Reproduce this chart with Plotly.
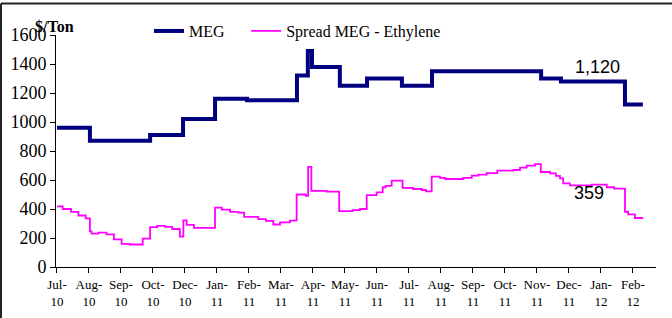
import plotly.graph_objects as go

# Tick labels (category axis, one label per month mark)
tick_labels = ["Jul-<br>10", "Aug-<br>10", "Sep-<br>10", "Oct-<br>10", "Dec-<br>10",
               "Jan-<br>11", "Feb-<br>11", "Mar-<br>11", "Apr-<br>11", "May-<br>11",
               "Jun-<br>11", "Jul-<br>11", "Aug-<br>11", "Sep-<br>11", "Oct-<br>11",
               "Nov-<br>11", "Dec-<br>11", "Jan-<br>12", "Feb-<br>12"]
tick_pos = list(range(len(tick_labels)))

# MEG price: time (months since Jul-10) of each price change, and the new price
meg_t = [0.0, 1.03, 2.91, 3.94, 4.94, 5.94, 7.50, 7.84, 7.97, 8.84, 9.69, 10.78,
         11.72, 15.13, 15.75, 17.75, 18.31]
meg_v = [960, 870, 910, 1020, 1160, 1150, 1320, 1490, 1380, 1250, 1300, 1250,
         1350, 1300, 1280, 1120, 1120]

# Spread MEG - Ethylene
spr_t = [0.0, 0.18, 0.44, 0.67, 0.90, 1.03, 1.08, 1.29, 1.55, 1.78, 2.02, 2.28,
         2.68, 2.91, 3.13, 3.38, 3.60, 3.84, 3.95, 4.05, 4.28, 4.94, 5.15, 5.41,
         5.67, 5.85, 6.29, 6.53, 6.76, 6.97, 7.28, 7.49, 7.78, 7.85, 7.95, 8.43,
         8.82, 9.24, 9.47, 9.68, 9.99, 10.18, 10.27, 10.46, 10.80, 11.13, 11.40,
         11.53, 11.71, 11.97, 12.13, 12.70, 12.96, 13.17, 13.43, 13.76, 14.26,
         14.47, 14.68, 14.94, 15.12, 15.41, 15.59, 15.72, 15.82, 16.03, 16.71,
         17.18, 17.41, 17.75, 17.85, 18.06, 18.32]
spr_v = [418, 400, 380, 355, 335, 245, 230, 237, 225, 190, 160, 155,
         195, 275, 283, 277, 262, 210, 322, 290, 270, 410, 395, 380,
         375, 345, 330, 318, 293, 308, 320, 500, 490, 690, 525, 520,
         385, 392, 400, 495, 515, 550, 559, 595, 545, 538, 531,
         522, 623, 614, 607, 614, 630, 637, 648, 664, 669,
         685, 699, 710, 655, 646, 628, 611, 577, 563, 568,
         550, 540, 381, 363, 338, 338]

meg_label = "1,120"
spr_label = "359"

serif = "Liberation Serif, Times New Roman, serif"
sans = "Liberation Sans, Arial, sans-serif"

fig = go.Figure()
fig.add_trace(go.Scatter(x=meg_t, y=meg_v, mode="lines", name="MEG", legend="legend",
                         line=dict(color="#000080", width=4, shape="hv")))
fig.add_trace(go.Scatter(x=spr_t, y=spr_v, mode="lines", name="Spread MEG - Ethylene",
                         legend="legend2",
                         line=dict(color="#FF00FF", width=1.8, shape="hv")))

leg_common = dict(orientation="h", xanchor="left", yanchor="middle", y=1.017,
                  font=dict(family=serif, size=16, color="black"),
                  bgcolor="rgba(0,0,0,0)", borderwidth=0)

fig.update_layout(
    width=672, height=318,
    margin=dict(l=56, r=16, t=35, b=51, autoexpand=False),
    paper_bgcolor="white", plot_bgcolor="white",
    showlegend=True, hovermode=False,
    legend=dict(x=0.155, **leg_common),
    legend2=dict(x=0.317, **leg_common),
    xaxis=dict(range=[-0.03, 18.72], tickmode="array", tickvals=tick_pos,
               ticktext=tick_labels, ticks="outside", ticklen=5, tickcolor="black",
               showline=True, linecolor="black", linewidth=1, showgrid=False,
               mirror=False, zeroline=False,
               tickfont=dict(family=serif, size=13, color="black")),
    yaxis=dict(range=[0, 1600], dtick=200, ticks="outside", ticklen=5, tickcolor="black",
               showline=True, linecolor="black", linewidth=1, showgrid=False,
               mirror=False, zeroline=False,
               tickfont=dict(family=serif, size=18, color="black")),
)

fig.add_annotation(x=16.89, y=1379, text=meg_label, showarrow=False,
                   xanchor="center", yanchor="middle",
                   font=dict(family=sans, size=18, color="black"))
fig.add_annotation(x=16.63, y=510, text=spr_label, showarrow=False,
                   xanchor="center", yanchor="middle",
                   font=dict(family=sans, size=18, color="black"))
fig.add_annotation(xref="paper", yref="paper", x=-0.0383, y=1.035,
                   text="<b>$/Ton</b>", showarrow=False, xanchor="left", yanchor="middle",
                   font=dict(family=serif, size=16, color="black"))

# frame lines of the original picture (top and left edges)
fig.add_shape(type="line", xref="paper", yref="paper", x0=-0.0917, x1=1.0267,
              y0=1.1358, y1=1.1358, line=dict(color="#222222", width=2))
fig.add_shape(type="line", xref="paper", yref="paper", x0=-0.0917, x1=-0.0917,
              y0=-0.22, y1=1.1358, line=dict(color="#222222", width=2))

fig.write_html("out.html",
               config={"staticPlot": True, "displayModeBar": False},
               post_script="document.body.style.margin='0px';"
                           "document.body.style.overflow='hidden';"
                           "document.documentElement.style.overflow='hidden';")
